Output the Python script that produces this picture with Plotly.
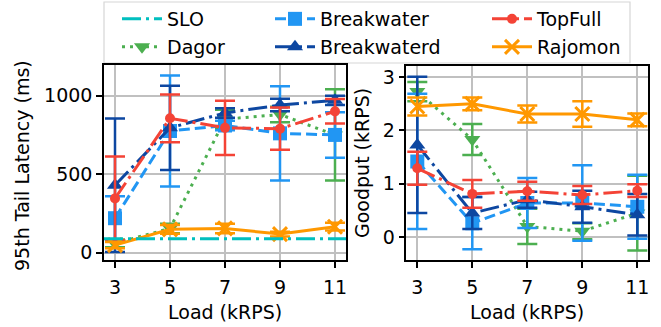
import plotly.graph_objects as go

# ---------------- data ----------------
loads = [3, 5, 7, 9, 11]
x_ticks = [3, 5, 7, 9, 11]
lat_yticks = [0, 500, 1000]
gp_yticks = [0, 1, 2, 3]

slo_latency = 90

series_names = ["Dagor", "Breakwater", "Breakwaterd", "TopFull", "Rajomon"]

dagor_lat = [60, 155, 850, 880, 750]
dagor_lat_err = [25, 30, 60, 50, 290]
breakwater_lat = [220, 775, 810, 760, 750]
breakwater_lat_err = [140, 353, 30, 300, 145]
breakwaterd_lat = [430, 795, 890, 940, 970]
breakwaterd_lat_err = [425, 268, 30, 40, 30]
topfull_lat = [346, 856, 795, 790, 900]
topfull_lat_err = [266, 152, 173, 135, 78]
rajomon_lat = [49, 149, 155, 119, 166]
rajomon_lat_err = [20, 28, 30, 15, 25]

dagor_gp = [2.73, 1.83, 0.20, 0.11, 0.45]
dagor_gp_err = [0.18, 0.29, 0.33, 0.15, 0.70]
breakwater_gp = [1.42, 0.26, 0.64, 0.64, 0.57]
breakwater_gp_err = [1.27, 0.49, 0.47, 0.71, 0.60]
breakwaterd_gp = [1.73, 0.45, 0.70, 0.57, 0.42]
breakwaterd_gp_err = [1.28, 0.30, 0.15, 0.30, 0.39]
topfull_gp = [1.29, 0.81, 0.86, 0.79, 0.87]
topfull_gp_err = [0.31, 0.26, 0.18, 0.17, 0.12]
rajomon_gp = [2.45, 2.50, 2.31, 2.31, 2.20]
rajomon_gp_err = [0.17, 0.12, 0.16, 0.24, 0.12]

latency = {
    "Dagor": (dagor_lat, dagor_lat_err),
    "Breakwater": (breakwater_lat, breakwater_lat_err),
    "Breakwaterd": (breakwaterd_lat, breakwaterd_lat_err),
    "TopFull": (topfull_lat, topfull_lat_err),
    "Rajomon": (rajomon_lat, rajomon_lat_err),
}
goodput = {
    "Dagor": (dagor_gp, dagor_gp_err),
    "Breakwater": (breakwater_gp, breakwater_gp_err),
    "Breakwaterd": (breakwaterd_gp, breakwaterd_gp_err),
    "TopFull": (topfull_gp, topfull_gp_err),
    "Rajomon": (rajomon_gp, rajomon_gp_err),
}

# ---------------- styles ----------------
FONT = "DejaVu Sans"
FS = 19
W, H = 661, 327
SLO_COLOR = "#00BFBF"
DASHDOT = "19px,5px,3px,5px"
styles = {
    "Dagor": dict(color="#4CAF50", dash="3px,5px", symbol="triangle-down", size=14, legend="legend2"),
    "Breakwater": dict(color="#2196F3", dash="11px,5px", symbol="square", size=14, legend="legend3"),
    "Breakwaterd": dict(color="#0D47A1", dash=DASHDOT, symbol="triangle-up", size=14, legend="legend4"),
    "TopFull": dict(color="#F44336", dash=DASHDOT, symbol="circle", size=10, legend="legend5"),
    "Rajomon": dict(color="#FF9800", dash="solid", symbol="x-thin-open", size=14, legend="legend6"),
}

fig = go.Figure()

# SLO legend entry (line drawn as a horizontal shape across the axes)
fig.add_trace(go.Scatter(x=[None], y=[None], mode="lines", name="SLO",
                         line=dict(color=SLO_COLOR, width=3, dash=DASHDOT),
                         legend="legend", xaxis="x", yaxis="y"))
fig.add_shape(type="line", xref="x domain", yref="y", x0=0, x1=1,
              y0=slo_latency, y1=slo_latency,
              line=dict(color=SLO_COLOR, width=3, dash=DASHDOT))

for name in series_names:
    st = styles[name]
    for data, xa, ya, show in ((latency, "x", "y", True), (goodput, "x2", "y2", False)):
        vals, errs = data[name]
        marker = dict(symbol=st["symbol"], size=st["size"], color=st["color"])
        if st["symbol"].startswith("x"):
            marker["line"] = dict(color=st["color"], width=3)
        else:
            marker["line"] = dict(width=0)
        fig.add_trace(go.Scatter(
            x=loads, y=vals, name=name, mode="lines+markers",
            line=dict(color=st["color"], width=3, dash=st["dash"]),
            marker=marker,
            error_y=dict(type="data", array=errs, visible=True, color=st["color"],
                         thickness=2.5, width=10),
            showlegend=show, legend=st["legend"],
            xaxis=xa, yaxis=ya))

axis_common = dict(showline=True, linecolor="black", linewidth=1.5, mirror=True,
                   ticks="outside", ticklen=6, tickwidth=1.5, tickcolor="black",
                   showgrid=True, gridcolor="#c0c0c0", gridwidth=1.5, zeroline=False,
                   tickfont=dict(family=FONT, size=FS, color="black"))

xl0, xl1 = 104 / W, 346 / W
xr0, xr1 = 406.3 / W, 648.3 / W
yb = 1 - 260 / H
yt_l = 1 - 65 / H
yt_r = 1 - 66 / H

fig.update_layout(
    width=W, height=H,
    margin=dict(l=0, r=0, t=0, b=0, autoexpand=False),
    paper_bgcolor="white", plot_bgcolor="white",
    font=dict(family=FONT, size=FS, color="black"),
    xaxis=dict(domain=[xl0, xl1], range=[2.6, 11.4], tickvals=x_ticks, anchor="y",
               ticklabelstandoff=3, **axis_common),
    yaxis=dict(domain=[yb, yt_l], range=[-46, 1195], tickvals=lat_yticks, anchor="x", **axis_common),
    xaxis2=dict(domain=[xr0, xr1], range=[2.6, 11.4], tickvals=x_ticks, anchor="y2",
                ticklabelstandoff=3, **axis_common),
    yaxis2=dict(domain=[yb, yt_r], range=[-0.43, 3.21], tickvals=gp_yticks, anchor="x2", **axis_common),
    showlegend=True,
)

leg_common = dict(xanchor="left", yanchor="top", orientation="v", bgcolor="rgba(0,0,0,0)",
                  borderwidth=0, font=dict(family=FONT, size=FS, color="black"),
                  itemwidth=40, tracegroupgap=0)
row1_top = 1 - 0 / H
row2_top = 1 - 28 / H
col_x = [117 / W, 270 / W, 487 / W]
fig.update_layout(
    legend=dict(x=col_x[0], y=row1_top, **leg_common),
    legend2=dict(x=col_x[0], y=row2_top, **leg_common),
    legend3=dict(x=col_x[1], y=row1_top, **leg_common),
    legend4=dict(x=col_x[1], y=row2_top, **leg_common),
    legend5=dict(x=col_x[2], y=row1_top, **leg_common),
    legend6=dict(x=col_x[2], y=row2_top, **leg_common),
)

# legend frame
fig.add_shape(type="rect", xref="paper", yref="paper",
              x0=104 / W, x1=630 / W, y0=1 - 63 / H, y1=1 - 2 / H,
              line=dict(color="#d6d6d6", width=1.2), fillcolor="white", layer="below")

# axis titles
title_y = 1 - 312 / H
fig.add_annotation(text="Load (kRPS)", x=(xl0 + xl1) / 2, y=title_y, xref="paper", yref="paper",
                   showarrow=False, xanchor="center", yanchor="middle",
                   font=dict(family=FONT, size=FS, color="black"))
fig.add_annotation(text="Load (kRPS)", x=(xr0 + xr1) / 2, y=title_y, xref="paper", yref="paper",
                   showarrow=False, xanchor="center", yanchor="middle",
                   font=dict(family=FONT, size=FS, color="black"))
fig.add_annotation(text="95th Tail Latency (ms)", x=22 / W, y=1 - 166 / H, xref="paper", yref="paper",
                   showarrow=False, xanchor="center", yanchor="middle", textangle=-90,
                   font=dict(family=FONT, size=FS, color="black"))
fig.add_annotation(text="Goodput (kRPS)", x=362 / W, y=1 - 163 / H, xref="paper", yref="paper",
                   showarrow=False, xanchor="center", yanchor="middle", textangle=-90,
                   font=dict(family=FONT, size=FS, color="black"))

fig.write_html("out.html", config={"displayModeBar": False},
               post_script="document.body.style.margin='0';")
